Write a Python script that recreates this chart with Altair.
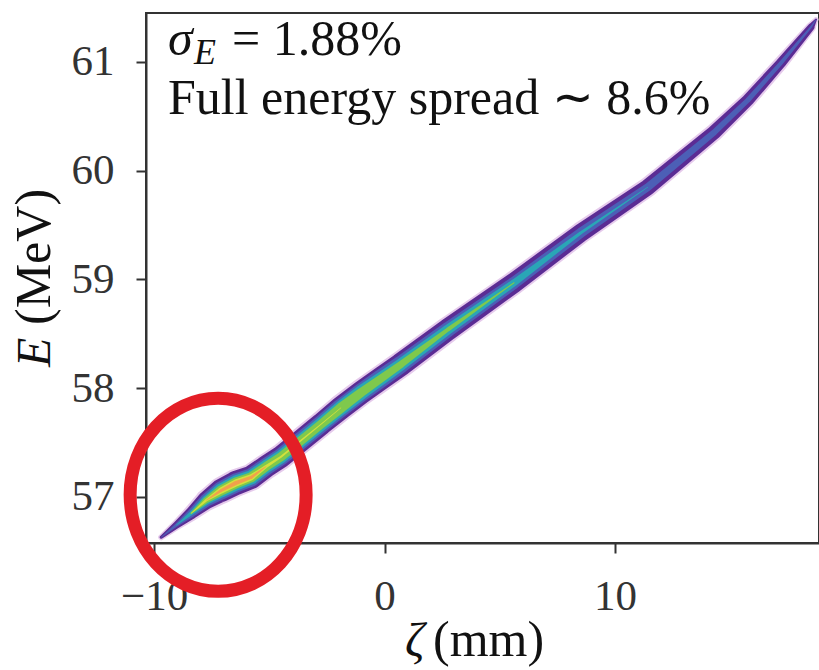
import altair as alt
import pandas as pd

# ---- data ----
zeta = [-9.69, -9.04, -8.39, -7.74, -7.09, -6.44, -5.79, -5.14, -4.49, -3.62, -2.75, -1.89,
        -1.02, -0.15, 0.72, 2.75, 5.62, 8.52, 11.43, 14.29, 15.77, 17.2, 18.5, 18.72]
energy = [56.63, 56.74, 56.85, 56.97, 57.06, 57.13, 57.18, 57.28, 57.37, 57.52, 57.67, 57.82,
          57.96, 58.09, 58.22, 58.54, 58.97, 59.43, 59.85, 60.35, 60.65, 60.99, 61.32, 61.39]
# band thickness (density levels) along the beam; 0 = level not reached
w_fringe = [6, 10, 16, 22, 27, 28, 27, 26, 26, 26, 26, 27, 27, 27, 27, 26, 24, 22, 20, 18, 16, 14, 10, 5]
w_purple = [3, 7, 12, 18, 23, 24, 23, 22, 22, 22, 22, 23, 23, 23, 23, 22, 20, 18, 16, 14, 12, 10, 7, 2]
w_blue = [0.5, 3, 8, 13, 18, 19, 18, 17, 17, 17, 17, 18, 18, 18, 17, 15, 12, 10, 8, 6, 5, 4, 2, 0.5]
w_teal = [0, 0.5, 4, 9, 14, 15, 14, 13, 13, 13, 13, 14, 14, 13, 12, 10, 7, 3, 0.5, 0, 0, 0, 0, 0]
w_green = [0, 0, 1.5, 6, 10, 11, 10, 9, 9, 9, 9, 10, 9, 8, 7, 4, 1, 0, 0, 0, 0, 0, 0, 0]
w_yellow = [0, 0, 0.5, 2.5, 6, 7, 6, 3, 2, 1.5, 1, 0.5, 0, 0, 0, 0, 0, 0, 0, 0, 0, 0, 0, 0]
w_orange = [0, 0, 0, 0.5, 3, 4, 3, 0.5, 0, 0, 0, 0, 0, 0, 0, 0, 0, 0, 0, 0, 0, 0, 0, 0]

x_ticks = [-10, 0, 10]
y_ticks = [57, 58, 59, 60, 61]

highlight_zeta = [-7.22]
highlight_energy = [57.02]

sigma_sym = ["σ"]
sigma_sub = ["E"]
sigma_val = ["= 1.88%"]
spread_text = ["Full energy spread ∼ 8.6%"]
xtitle_sym = ["ζ"]
xtitle_unit = ["(mm)"]
ytitle_sym = ["E"]
ytitle_unit = ["(MeV)"]

FONT = "Liberation Serif"
W, H = 673, 530

df = pd.DataFrame({
    "zeta": zeta, "E": energy,
    "fringe": w_fringe, "purple": w_purple, "blue": w_blue, "teal": w_teal,
    "green": w_green, "yellow": w_yellow, "orange": w_orange,
})

xs = alt.Scale(domain=[-10.35, 18.85], nice=False, zero=False)
ys = alt.Scale(domain=[56.577, 61.45], nice=False, zero=False)

base = alt.Chart(df)


def band(col, color):
    return base.transform_filter(f"datum['{col}'] > 0").mark_trail(color=color, clip=True).encode(
        x=alt.X("zeta:Q", scale=xs,
                axis=alt.Axis(values=x_ticks, title=None, format="d", labelPadding=22)),
        y=alt.Y("E:Q", scale=ys,
                axis=alt.Axis(values=y_ticks, title=None, format="d", labelPadding=22)),
        size=alt.Size(f"{col}:Q", scale=None, legend=None),
        order="zeta:Q",
    )


layers = [
    band("fringe", "#e6cbec"),
    band("purple", "#5b2c94"),
    band("blue", "#4c5fb6"),
    band("teal", "#2aa6b6"),
    band("green", "#7fc94c"),
    band("yellow", "#d4e03c"),
    band("orange", "#f2a04c"),
]

ellipse = alt.Chart(pd.DataFrame({"zeta": highlight_zeta, "E": highlight_energy})).mark_point(
    shape="M -1 0 A 1 1.097 0 1 1 1 0 A 1 1.097 0 1 1 -1 0 Z",
    size=176 * 176, filled=False, stroke="#e41e26", strokeWidth=13, opacity=1,
).encode(x=alt.X("zeta:Q", scale=xs), y=alt.Y("E:Q", scale=ys))


def label(values, x, y, size, style="normal", angle=0, align="left", baseline="alphabetic"):
    kw = dict(font=FONT, fontSize=size, fontStyle=style, color="#111",
              align=align, baseline=baseline)
    if angle:
        kw["angle"] = angle
    return alt.Chart(pd.DataFrame({"t": values})).mark_text(**kw).encode(
        x=alt.value(x), y=alt.value(y), text="t:N")


texts = [
    label(sigma_sym, 22, 42, 50, "italic"),
    label(sigma_sub, 48, 51, 36, "italic"),
    label(sigma_val, 86, 42, 50),
    label(spread_text, 22, 101, 50),
    label(xtitle_sym, 259, 643, 48, "italic"),
    label(xtitle_unit, 287, 643, 50),
    label(ytitle_sym, -96, 354, 48, "italic", angle=270),
    label(ytitle_unit, -96, 312, 50, angle=270),
]

chart = alt.layer(*layers, ellipse, *texts).properties(
    width=W, height=H,
    autosize=alt.AutoSizeParams(type="none"),
    padding={"left": 146, "top": 13, "right": 0, "bottom": 127},
    background="white",
).configure_view(
    stroke="#333", strokeWidth=2
).configure_axis(
    grid=False, domainColor="#333", domainWidth=2, tickColor="#333", tickWidth=2,
    tickSize=10, labelFont=FONT, labelFontSize=43, labelColor="#333",
)

chart.save("out.html", embed_options={"renderer": "svg", "actions": False})
